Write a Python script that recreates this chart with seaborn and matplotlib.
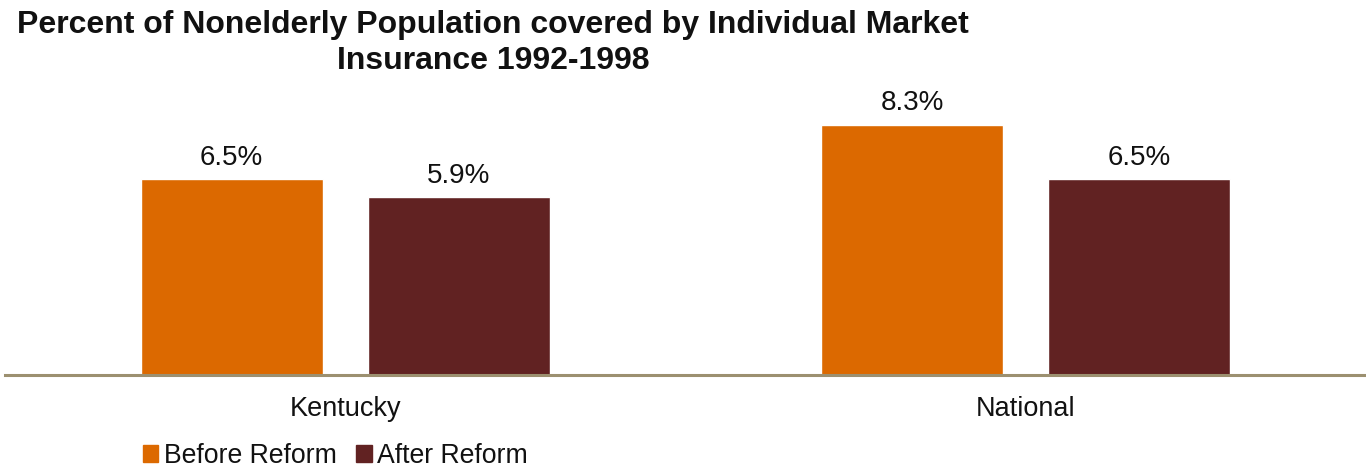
import matplotlib
matplotlib.use("Agg")
import matplotlib.pyplot as plt
import matplotlib.patches as mpatches
import seaborn as sns
import pandas as pd

regions = ["Kentucky", "National"]
periods = ["Before Reform", "After Reform"]
before_vals = [6.5, 8.3]
after_vals = [5.9, 6.5]
colors = ["#DC6900", "#612222"]
title_lines = ["Percent of Nonelderly Population covered by Individual Market",
               "Insurance 1992-1998"]

df = pd.DataFrame({
    "region": regions * 2,
    "period": [periods[0]] * 2 + [periods[1]] * 2,
    "value": before_vals + after_vals,
})

sns.set_theme(style="white")
plt.rcParams["font.family"] = ["Liberation Sans", "DejaVu Sans"]

W, H, DPI = 1366, 468, 100
fig = plt.figure(figsize=(W / DPI, H / DPI), dpi=DPI)
ymax = 9.0
ppu = 30.15
bottom_px = 375
top_px = bottom_px - ymax * ppu
ax = fig.add_axes([5 / W, 1 - bottom_px / H, 1 - 5 / W, (bottom_px - top_px) / H])

sns.barplot(data=df, x="region", y="value", hue="period", order=regions,
            hue_order=periods, palette=colors, width=0.668, gap=0.2,
            ax=ax, legend=False, saturation=1)

ax.set_xlim(-0.5, 1.5)
ax.set_ylim(0, ymax)
for c in ax.containers:
    ax.bar_label(c, labels=[f"{v:.1f}%" for v in c.datavalues], padding=6,
                 fontsize=20, color="#111111")

for s in ["top", "right", "left"]:
    ax.spines[s].set_visible(False)
ax.spines["bottom"].set_color("#9C9070")
ax.spines["bottom"].set_linewidth(2.2)
ax.set_yticks([])
ax.set_xlabel("")
ax.set_ylabel("")
ax.tick_params(axis="x", length=0, pad=15, labelsize=19.5, labelcolor="#111111")

for line, base in zip(title_lines, [33, 69]):
    fig.text(493 / W, 1 - base / H, line, ha="center", va="baseline",
             fontsize=23, fontweight="bold", color="#111111")

handles = [mpatches.Patch(color=c, label=l) for c, l in zip(colors, periods)]
fig.legend(handles=handles, loc="center left",
           bbox_to_anchor=(143 / W, 1 - 456 / H), ncol=2, frameon=False,
           fontsize=19.2, handlelength=0.57, handleheight=0.57,
           handletextpad=0.2, columnspacing=0.75, borderpad=0, borderaxespad=0,
           labelcolor="#111111")

fig.savefig("out.png", dpi=DPI)
